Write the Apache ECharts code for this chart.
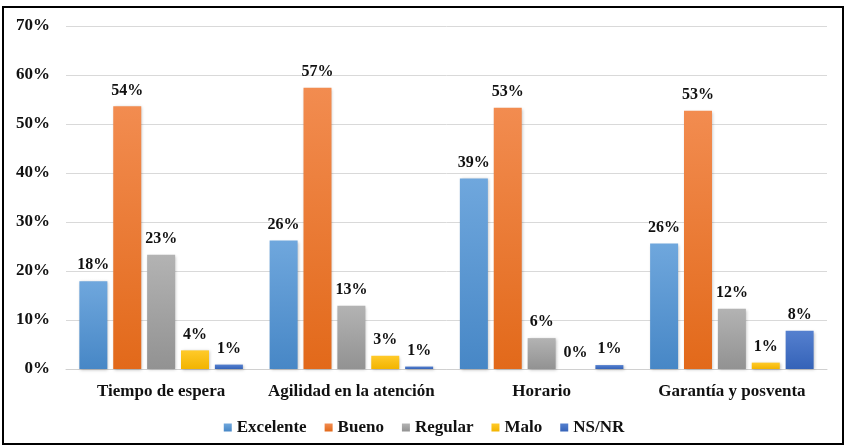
<!DOCTYPE html>
<html>
<head>
<meta charset="utf-8">
<script src="https://cdn.jsdelivr.net/npm/echarts@6/dist/echarts.min.js"></script>
<style>
  html, body { margin: 0; padding: 0; background: #fff; }
  #chart { width: 848px; height: 448px; }
</style>
</head>
<body>
<div id="chart"></div>
<script>
var categories = ["Tiempo de espera", "Agilidad en la atención", "Horario", "Garantía y posventa"];
var seriesNames = ["Excelente", "Bueno", "Regular", "Malo", "NS/NR"];
var excelente = [17.9, 26.2, 38.9, 25.6];
var bueno = [53.6, 57.4, 53.3, 52.7];
var regular = [23.3, 12.9, 6.3, 12.3];
var malo = [3.8, 2.7, 0, 1.3];
var nsnr = [0.9, 0.5, 0.8, 7.8];
var yTicks = [0, 10, 20, 30, 40, 50, 60, 70];

var font = "Liberation Serif";
var legendText = {
  fontFamily: font, fontWeight: "bold", fontSize: 17, color: "#111",
  rich: { t: { fontFamily: font, fontWeight: "bold", fontSize: 17, color: "#111" } }
};

function grad(top, bottom) {
  return new echarts.graphic.LinearGradient(0, 0, 0, 1, [
    { offset: 0, color: top },
    { offset: 1, color: bottom }
  ]);
}

function makeSeries(name, data, top, bottom) {
  return {
    name: name,
    type: "bar",
    data: data,
    barWidth: 28,
    barGap: "21%",
    itemStyle: {
      color: grad(top, bottom),
      shadowColor: "rgba(0,0,0,0.25)",
      shadowBlur: 3,
      shadowOffsetX: 1,
      shadowOffsetY: 1
    },
    label: {
      show: true,
      position: "top",
      distance: 8,
      fontFamily: font,
      fontWeight: "bold",
      fontSize: 16,
      color: "#111",
      formatter: function (p) { return Math.round(p.value) + "%"; }
    }
  };
}

var chart = echarts.init(document.getElementById("chart"));
chart.setOption({
  animation: false,
  backgroundColor: "#fff",
  textStyle: { fontFamily: font },
  color: ["#5B9BD5", "#ED7D31", "#A5A5A5", "#FFC000", "#4472C4"],
  graphic: [{
    type: "rect",
    shape: { x: 3, y: 7, width: 840, height: 437 },
    style: { fill: "none", stroke: "#000", lineWidth: 2 }
  }],
  grid: { left: 66, right: 21, top: 26, bottom: 79 },
  legend: {
    top: 414,
    left: "center",
    itemWidth: 8,
    itemHeight: 8,
    itemGap: 18,
    icon: "rect",
    formatter: "{t|{name}}",
    textStyle: legendText,
    data: seriesNames
  },
  xAxis: {
    type: "category",
    data: categories,
    axisLine: { lineStyle: { color: "#d0d0d0" } },
    axisTick: { show: false },
    axisLabel: { interval: 0, fontFamily: font, fontWeight: "bold", fontSize: 17, color: "#111", margin: 14 }
  },
  yAxis: {
    type: "value",
    min: yTicks[0],
    max: yTicks[yTicks.length - 1],
    interval: 10,
    axisLine: { show: false },
    axisTick: { show: false },
    splitLine: { lineStyle: { color: "#d9d9d9" } },
    axisLabel: {
      fontFamily: font, fontWeight: "bold", fontSize: 17, color: "#111", margin: 16,
      formatter: "{value}%"
    }
  },
  series: [
    makeSeries(seriesNames[0], excelente, "#6fa7dd", "#4787c6"),
    makeSeries(seriesNames[1], bueno, "#f28c50", "#e2691a"),
    makeSeries(seriesNames[2], regular, "#b3b3b3", "#929292"),
    makeSeries(seriesNames[3], malo, "#ffca2a", "#f2b400"),
    makeSeries(seriesNames[4], nsnr, "#5580cf", "#3563b8")
  ]
});
</script>
</body>
</html>
